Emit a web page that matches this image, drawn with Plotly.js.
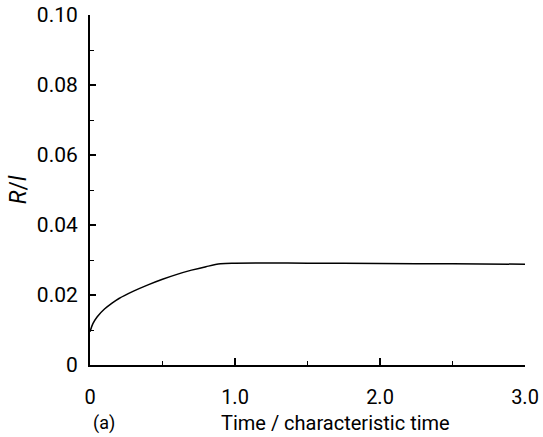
<!DOCTYPE html>
<html>
<head>
<meta charset="utf-8">
<script src="https://cdn.plot.ly/plotly-3.0.1.min.js"></script>
<style>html,body{margin:0;padding:0;background:#fff;}#chart{width:543px;height:437px;}</style>
</head>
<body>
<div id="chart"></div>
<script>
// Data
const timeRatio = [0, 0.02, 0.05, 0.1, 0.15, 0.2, 0.3, 0.4, 0.5, 0.6, 0.7, 0.8, 0.9, 1.0, 1.5, 2.0, 2.5, 3.0];
const radiusRatio = [0.0095, 0.0118, 0.0138, 0.016, 0.0176, 0.019, 0.0211, 0.0229, 0.0245, 0.0259, 0.0271, 0.0281, 0.0289, 0.0291, 0.0291, 0.029, 0.0289, 0.0288];
const xTickVals = [0, 1, 2, 3];
const xTickText = ["0", "1.0", "2.0", "3.0"];
const yTickVals = [0, 0.02, 0.04, 0.06, 0.08, 0.10];
const yTickText = ["0", "0.02", "0.04", "0.06", "0.08", "0.10"];
const xTitle = "Time / characteristic time";
const yTitle = "<i>R</i>/<i>l</i>";
const panelLabel = "(a)";

const font = "Roboto, 'DejaVu Sans', sans-serif";

const trace = {
  x: timeRatio,
  y: radiusRatio,
  type: "scatter",
  mode: "lines",
  line: {color: "#000", width: 1.5, shape: "spline", smoothing: 1},
  hoverinfo: "skip",
  showlegend: false
};

const layout = {
  width: 543,
  height: 437,
  margin: {l: 90, r: 18, t: 15, b: 72, pad: 0},
  paper_bgcolor: "#fff",
  plot_bgcolor: "#fff",
  font: {family: font, color: "#000"},
  xaxis: {
    range: [0, 3],
    tickmode: "array",
    tickvals: xTickVals,
    ticktext: xTickText,
    ticks: "inside",
    ticklen: 7,
    tickwidth: 1.2,
    tickcolor: "#000",
    minor: {dtick: 0.5, tick0: 0, ticks: "inside", ticklen: 4, tickwidth: 1, tickcolor: "#000"},
    showgrid: false,
    zeroline: false,
    showline: true,
    linecolor: "#000",
    linewidth: 1.5,
    tickfont: {family: font, size: 20, color: "#000"},
    ticklabelstandoff: 13
  },
  yaxis: {
    range: [0, 0.10],
    tickmode: "array",
    tickvals: yTickVals,
    ticktext: yTickText,
    ticks: "inside",
    ticklen: 6,
    tickwidth: 1.2,
    tickcolor: "#000",
    minor: {dtick: 0.01, tick0: 0, ticks: "inside", ticklen: 4, tickwidth: 1, tickcolor: "#000"},
    showgrid: false,
    zeroline: false,
    showline: true,
    linecolor: "#000",
    linewidth: 2,
    tickfont: {family: font, size: 21, color: "#000"},
    ticklabelstandoff: 6,
    title: {text: yTitle, font: {family: font, size: 23, color: "#000"}, standoff: 4}
  },
  annotations: [
    {text: xTitle, xref: "paper", yref: "paper", x: 0.565, y: -0.165, xanchor: "center", yanchor: "middle",
     showarrow: false, font: {family: font, size: 20, color: "#000"}},
    {text: panelLabel, xref: "paper", yref: "paper", x: 0.003, y: -0.165, xanchor: "left", yanchor: "middle",
     showarrow: false, font: {family: font, size: 18, color: "#000"}}
  ]
};

Plotly.newPlot("chart", [trace], layout, {staticPlot: true, displayModeBar: false});
</script>
</body>
</html>
